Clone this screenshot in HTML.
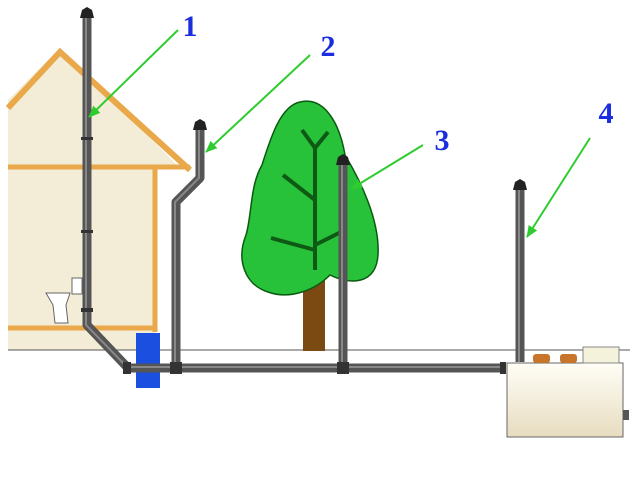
<!DOCTYPE html>
<html><head><style>body{margin:0;background:#fff}svg{display:block}</style></head><body>
<svg width="640" height="480" viewBox="0 0 640 480" xmlns="http://www.w3.org/2000/svg">
<defs>
<marker id="ah" markerWidth="12" markerHeight="10" refX="11" refY="5" orient="auto" markerUnits="userSpaceOnUse"><path d="M0,0 L12,5 L0,10 z" fill="#2ecc2e"/></marker>
<linearGradient id="tk" x1="0" y1="0" x2="0" y2="1"><stop offset="0" stop-color="#fffef6"/><stop offset="1" stop-color="#e7dcc0"/></linearGradient>
</defs>
<polygon points="8,100 60,48 180,168 155,168 155,350 8,350" fill="#f3ecd6"/>
<polyline points="8,108 60,52 190,170" fill="none" stroke="#e9a84a" stroke-width="6"/>
<line x1="8" y1="167" x2="190" y2="167" stroke="#e9a84a" stroke-width="5"/>
<line x1="155" y1="168" x2="155" y2="332" stroke="#e9a84a" stroke-width="5"/>
<line x1="8" y1="328" x2="157" y2="328" stroke="#e9a84a" stroke-width="5"/>
<path d="M46,293 L70,293 L66,305 L68,323 L55,323 L53,305 Z" fill="#fff" stroke="#666"/>
<rect x="72" y="278" width="10" height="16" fill="#fff" stroke="#666"/>
<line x1="8" y1="350" x2="630" y2="350" stroke="#555" stroke-width="1"/>
<rect x="303" y="268" width="22" height="83" fill="#7a4a12"/>
<path d="M300,102 C325,96 340,125 345,155 C360,180 380,220 378,255 C376,285 350,285 330,275 C315,290 290,300 268,292 C245,285 236,260 246,235 C252,215 250,185 262,165 C270,140 280,106 300,102 Z" fill="#27c23a" stroke="#0a5a10" stroke-width="1.5"/>
<g stroke="#0e5a14" stroke-width="4" fill="none">
<line x1="315" y1="145" x2="315" y2="270"/><line x1="315" y1="148" x2="302" y2="130"/><line x1="315" y1="148" x2="328" y2="132"/>
<line x1="315" y1="200" x2="283" y2="175"/><line x1="315" y1="250" x2="271" y2="238"/><line x1="315" y1="245" x2="345" y2="230"/>
</g>
<rect x="136" y="333" width="24" height="55" fill="#1a4fe0"/>
<g stroke="#555" stroke-width="9" fill="none" stroke-linejoin="round">
<polyline points="87,18 87,325 128,368 505,368"/>
<polyline points="200,130 200,178 176,202 176,368"/>
<line x1="343" y1="165" x2="343" y2="368"/>
<line x1="520" y1="188" x2="520" y2="362"/>
</g>
<g stroke="#888" stroke-width="2" fill="none">
<polyline points="86,18 86,325 127,367 505,367"/>
<polyline points="199,130 199,178 175,202 175,367"/>
<line x1="342" y1="165" x2="342" y2="367"/>
<line x1="519" y1="188" x2="519" y2="362"/>
</g>
<g fill="#222">
<path d="M80,18 L94,18 L92,10 L87,7 L82,10 Z"/>
<path d="M193,130 L207,130 L205,122 L200,119 L195,122 Z"/>
<path d="M336,165 L350,165 L348,157 L343,154 L338,157 Z"/>
<path d="M513,190 L527,190 L525,182 L520,179 L515,182 Z"/>
</g>
<g fill="#333">
<rect x="81" y="137" width="12" height="3"/><rect x="81" y="230" width="12" height="3"/><rect x="81" y="308" width="12" height="4"/>
<rect x="170" y="362" width="12" height="12"/><rect x="337" y="362" width="12" height="12"/><rect x="123" y="362" width="8" height="12"/><rect x="500" y="362" width="6" height="12"/>
</g>
<rect x="507" y="363" width="116" height="74" fill="url(#tk)" stroke="#666"/>
<rect x="623" y="410" width="6" height="10" fill="#555"/>
<rect x="533" y="354" width="17" height="9" rx="3" fill="#c8742a"/>
<rect x="560" y="354" width="17" height="9" rx="3" fill="#c8742a"/>
<rect x="583" y="347" width="36" height="16" fill="#f5f2dc" stroke="#888"/>
<g stroke="#2ecc2e" stroke-width="2" marker-end="url(#ah)">
<line x1="178" y1="30" x2="89" y2="117"/>
<line x1="310" y1="55" x2="206" y2="152"/>
<line x1="423" y1="145" x2="351" y2="189"/>
<line x1="590" y1="138" x2="527" y2="237"/>
</g>
<g font-family="Liberation Serif, serif" font-weight="bold" font-size="30" fill="#1a2ee0" text-anchor="middle">
<text x="190" y="36">1</text><text x="328" y="56">2</text><text x="442" y="150">3</text><text x="606" y="123">4</text>
</g>
</svg>
</body></html>
